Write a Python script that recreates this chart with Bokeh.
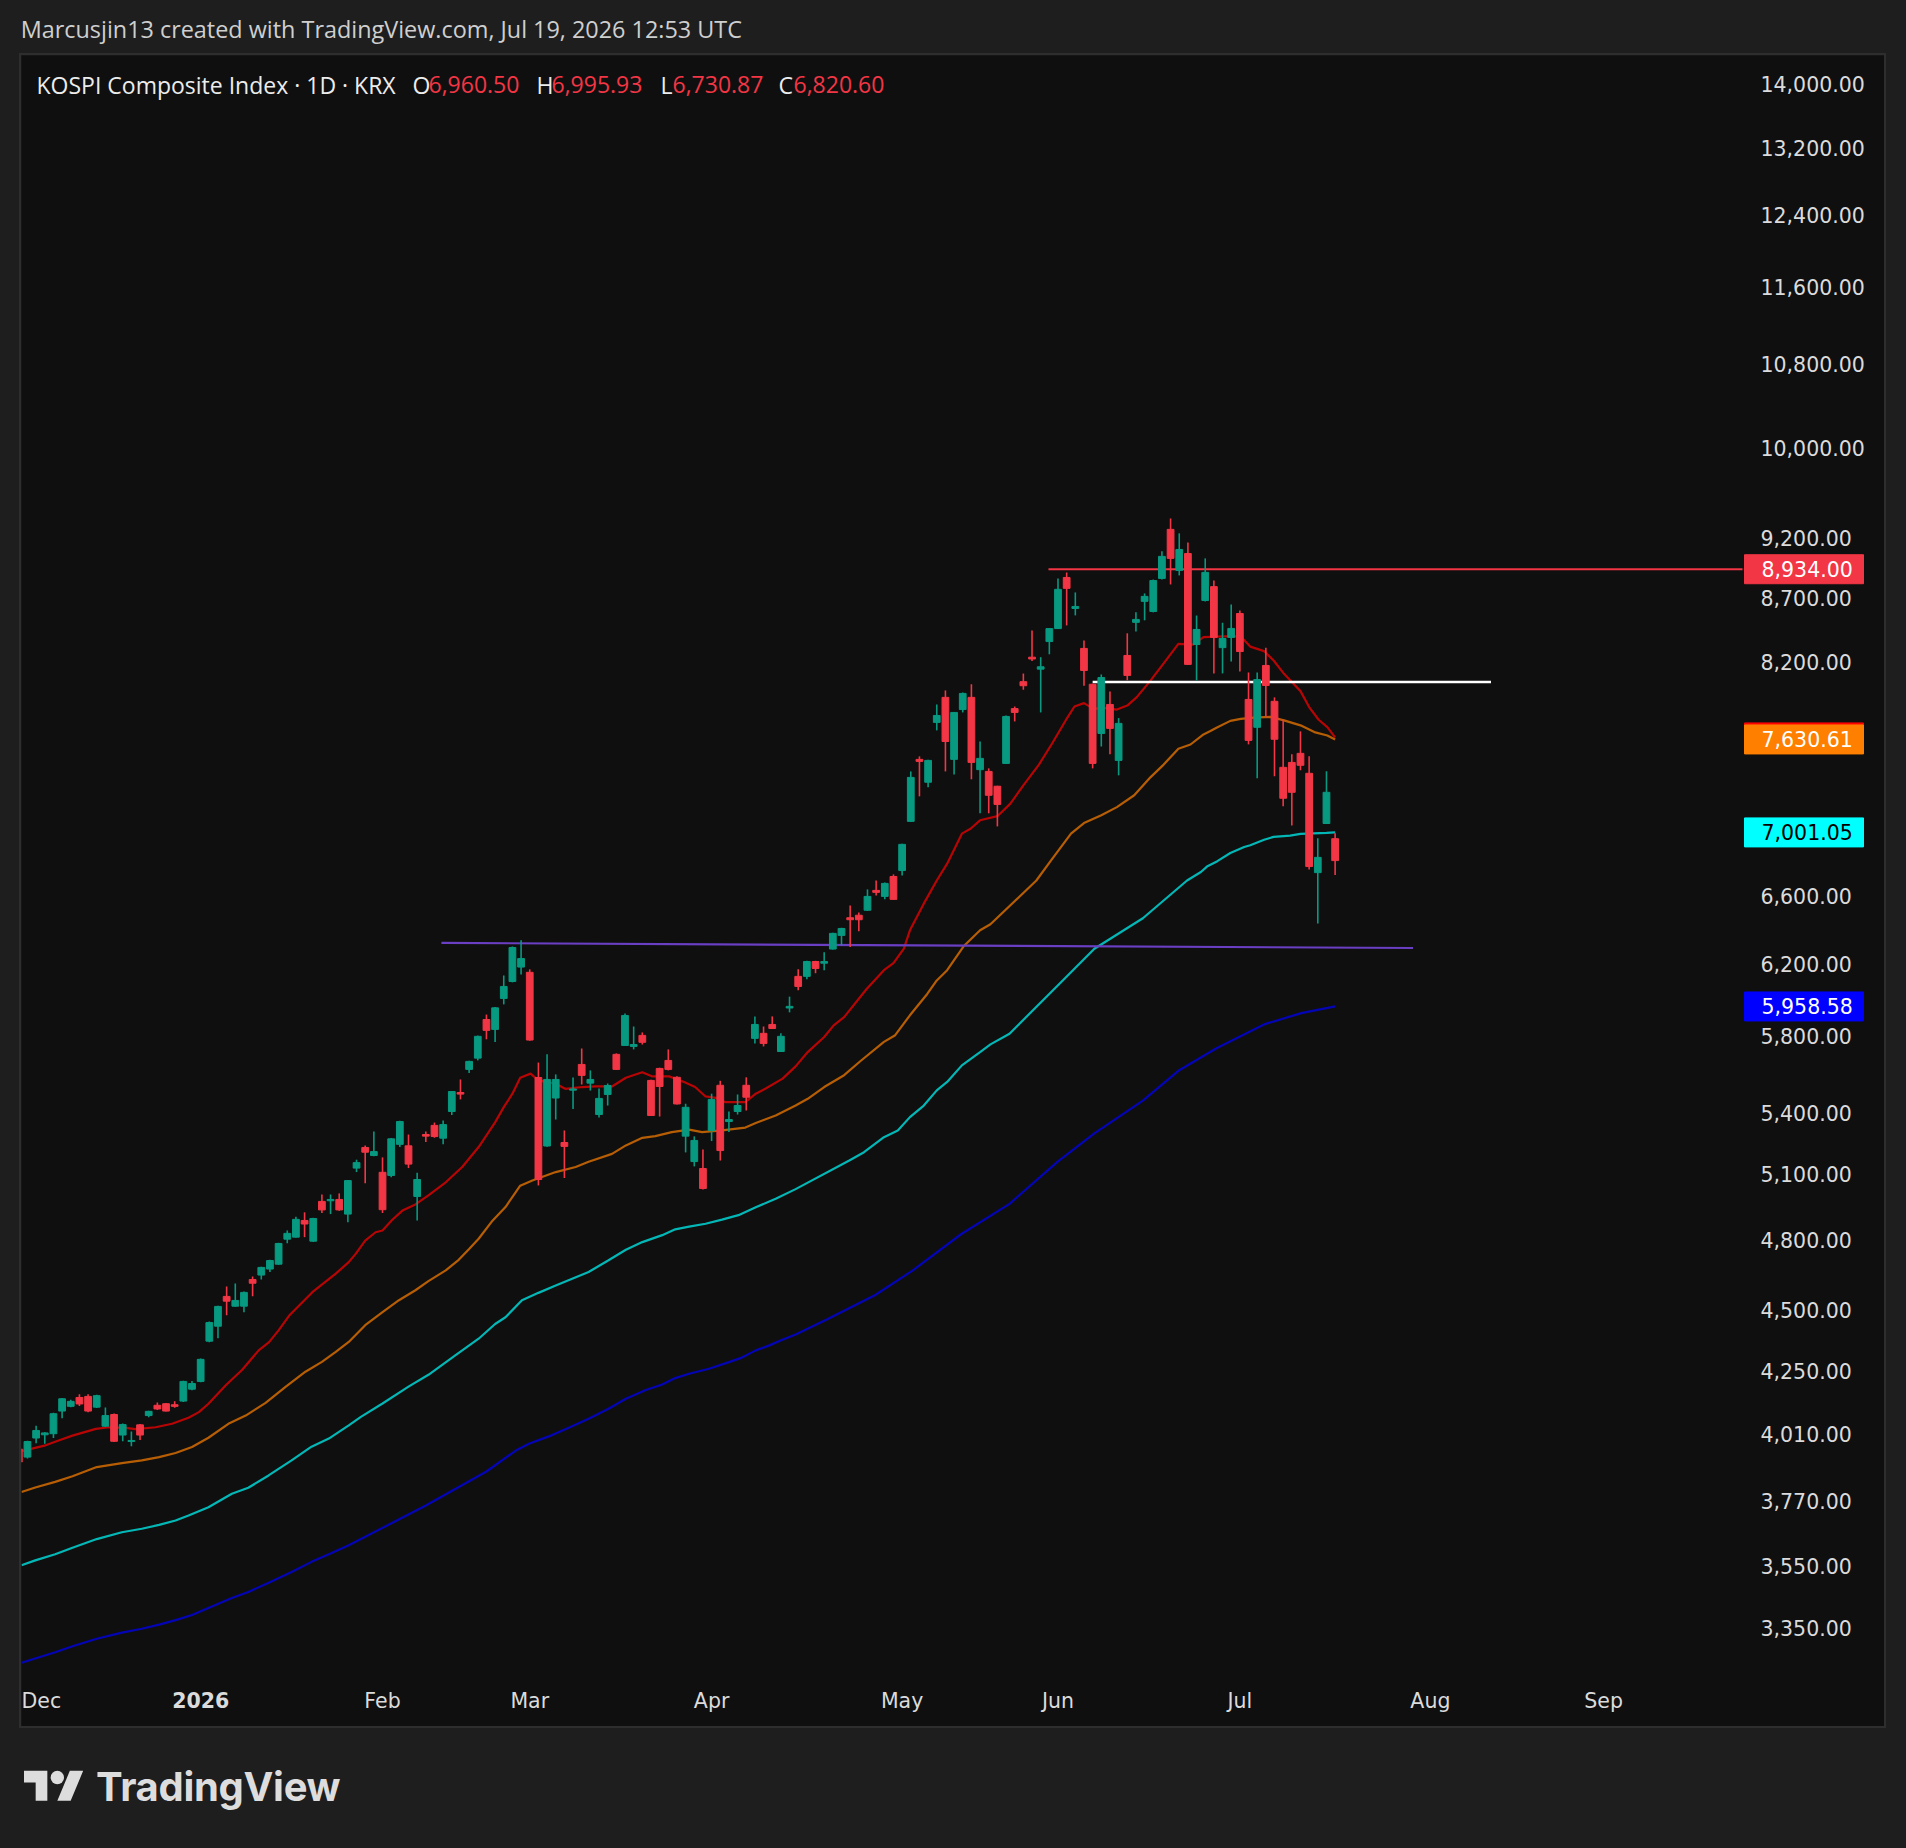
import math
from bokeh.plotting import figure
from bokeh.models import Range1d, FixedTicker, NumeralTickFormatter, Label, Div, ColumnDataSource
from bokeh.layouts import column
from bokeh.embed import file_html
from bokeh.resources import INLINE
from bokeh.core.properties import value

# ---------------- data ----------------
opens = [3955, 3925, 3995, 4007, 4011, 4096, 4114, 4148, 4152, 4111,
         4039, 4083, 4006, 3982, 4044, 4079, 4118, 4124, 4120, 4134,
         4180, 4210, 4370, 4431, 4555, 4514, 4514, 4627, 4646, 4672,
         4693, 4803, 4812, 4887, 4794, 4974, 4977, 4983, 4916, 5130,
         5229, 5190, 5110, 5095, 5244, 5237, 4997, 5292, 5337, 5274,
         5406, 5502, 5621, 5680, 5887, 5833, 6003, 6098, 6180, 6150,
         5579, 5236, 5474, 5253, 5514, 5647, 5550, 5391, 5492, 5700,
         5747, 5742, 5801, 5564, 5626, 5668, 5580, 5284, 5161, 5128,
         5312, 5539, 5356, 5406, 5539, 5785, 5812, 5860, 5715, 5950,
         6127, 6127, 6212, 6202, 6284, 6364, 6469, 6484, 6514, 6635,
         6598, 6721, 6758, 7073, 7491, 7334, 7752, 7934, 7491, 7845,
         7934, 7420, 7408, 7307, 7463, 7852, 8050, 8235, 8144, 8355,
         8456, 8866, 8615, 8302, 8031, 7673, 7882, 7484, 8248, 8505,
         8672, 8591, 8858, 9270, 8924, 9065, 8332, 8679, 8791, 8308,
         8387, 8575, 7919, 7717, 8172, 7905, 7436, 7470, 7533, 7395,
         6745, 7059, 6960.50]
highs = [3962, 3985, 4041, 4016, 4090, 4146, 4139, 4160, 4160, 4158,
         4110, 4087, 4049, 4019, 4047, 4097, 4129, 4127, 4133, 4213,
         4212, 4300, 4450, 4516, 4597, 4610, 4576, 4640, 4682, 4712,
         4787, 4842, 4904, 4924, 4899, 5006, 5006, 5011, 5074, 5170,
         5239, 5307, 5181, 5275, 5360, 5292, 5108, 5307, 5351, 5361,
         5510, 5569, 5666, 5800, 5914, 5955, 6132, 6299, 6335, 6167,
         5657, 5700, 5595, 5312, 5579, 5731, 5616, 5522, 5548, 5705,
         5920, 5849, 5817, 5568, 5630, 5726, 5585, 5445, 5283, 5219,
         5496, 5562, 5406, 5492, 5580, 5904, 5849, 5904, 5812, 6013,
         6168, 6216, 6216, 6265, 6380, 6409, 6543, 6501, 6641, 6696,
         6684, 6734, 6928, 7408, 7512, 7488, 7882, 7985, 7828, 7970,
         8031, 7616, 7429, 7310, 7802, 7867, 8111, 8441, 8235, 8460,
         8858, 8907, 8744, 8363, 8035, 8104, 7977, 7783, 8419, 8584,
         8736, 8849, 9083, 9364, 9236, 9158, 8559, 9024, 8841, 8502,
         8647, 8599, 8119, 8119, 8308, 7934, 7773, 7526, 7688, 7512,
         6963, 7409, 6995.93]
lows = [3902, 3920, 3976, 3974, 3995, 4069, 4111, 4115, 4092, 4108,
        4036, 3980, 3983, 3965, 3988, 4073, 4100, 4094, 4109, 4131,
        4176, 4207, 4366, 4382, 4476, 4512, 4489, 4556, 4627, 4659,
        4690, 4785, 4810, 4812, 4791, 4921, 4916, 4931, 4879, 5111,
        5059, 5187, 4921, 5087, 5231, 5130, 4887, 5255, 5276, 5245,
        5388, 5467, 5602, 5668, 5780, 5765, 5970, 6093, 6138, 5772,
        5048, 5232, 5366, 5083, 5418, 5543, 5512, 5376, 5436, 5618,
        5744, 5726, 5752, 5383, 5381, 5616, 5441, 5205, 5138, 5029,
        5260, 5166, 5304, 5391, 5411, 5758, 5742, 5836, 5713, 5926,
        6048, 6110, 6145, 6162, 6282, 6306, 6296, 6388, 6510, 6604,
        6580, 6578, 6727, 7070, 7239, 7300, 7695, 7408, 7387, 7824,
        7354, 7126, 7126, 7040, 7460, 7759, 7990, 8206, 7824, 8257,
        8452, 8481, 8560, 8020, 7429, 7581, 7526, 7381, 8060, 8434,
        8521, 8584, 8849, 8809, 8883, 8177, 8059, 8671, 8112, 8112,
        8202, 8127, 7596, 7361, 7790, 7375, 7172, 7046, 7416, 6765,
        6435, 7057, 6730.87]
closes = [3907, 3982, 4023, 4014, 4086, 4143, 4133, 4123, 4096, 4155,
          4079, 3983, 4045, 3986, 4006, 4095, 4104, 4096, 4114, 4210,
          4202, 4297, 4446, 4513, 4535, 4538, 4572, 4611, 4679, 4709,
          4784, 4829, 4892, 4871, 4896, 4935, 4983, 4935, 5071, 5156,
          5206, 5209, 4936, 5271, 5356, 5149, 5076, 5284, 5282, 5341,
          5507, 5494, 5663, 5796, 5828, 5951, 6070, 6293, 6229, 5776,
          5076, 5569, 5569, 5234, 5520, 5590, 5569, 5472, 5538, 5621,
          5909, 5752, 5764, 5386, 5533, 5621, 5444, 5427, 5263, 5034,
          5467, 5214, 5366, 5436, 5478, 5860, 5758, 5838, 5796, 5959,
          6070, 6212, 6172, 6212, 6376, 6405, 6457, 6457, 6598, 6623,
          6678, 6580, 6924, 7367, 7477, 7484, 7802, 7616, 7824, 7963,
          7470, 7498, 7246, 7185, 7795, 7824, 8020, 8221, 8162, 8456,
          8769, 8777, 8631, 8134, 7463, 8081, 7709, 7745, 8097, 8528,
          8712, 8841, 9041, 9024, 9099, 8180, 8449, 8908, 8387, 8379,
          8457, 8278, 7624, 8066, 8022, 7632, 7226, 7266, 7450, 6783,
          6841, 7266, 6820.60]

# month labels (bar index of first session of each month)
month_tick_idx = [0, 21, 42, 59, 80, 102, 120, 141, 163, 183]
month_tick_labels = ["Dec", "2026", "Feb", "Mar", "Apr", "May", "Jun", "Jul", "Aug", "Sep"]

price_ticks = [3350, 3550, 3770, 4010, 4250, 4500, 4800, 5100, 5400, 5800, 6200, 6600,
               8200, 8700, 9200, 10000, 10800, 11600, 12400, 13200, 14000]

# moving averages (bar index, value)
ma_red_x = [0.31, 3.1, 4.6, 6.2, 8.9, 10.4, 12.3, 13.5, 15.8, 17.7, 19.6, 20.8, 21.9, 23.9, 25.8,
            27.7, 28.9, 30.0, 31.2, 33.9, 36.6, 38.1, 38.9, 40.0, 41.2, 42.0, 43.1, 44.3, 45.8,
            47.3, 49.3, 51.2, 53.1, 55.0, 56.0, 57.0, 57.9, 59.1, 60.0, 62.0, 63.1, 65.1, 66.6,
            68.5, 70.1, 72.0, 73.1, 75.1, 76.9, 78.1, 79.3, 80.5, 81.6, 83.9, 85.1, 86.2, 88.2,
            89.7, 91.1, 93.0, 94.1, 95.3, 97.9, 99.9, 101.0, 102.2, 102.9, 104.5, 106.0, 107.2,
            108.9, 109.9, 111.0, 113.0, 114.5, 116.0, 117.8, 119.3, 120.9, 121.9, 123.0, 124.1,
            125.3, 126.8, 128.0, 129.1, 130.7, 132.2, 133.9, 135.6, 136.8, 139.2, 141.1, 142.2,
            143.8, 144.9, 146.1, 148.0, 149.0, 150.1, 151.1, 152.0]
ma_red_y = [3947, 3968, 3986, 4004, 4029, 4035, 4033, 4028, 4035, 4048, 4071, 4092, 4124, 4195, 4256,
            4333, 4366, 4414, 4474, 4573, 4652, 4702, 4738, 4797, 4834, 4842, 4889, 4932, 4960,
            5002, 5063, 5135, 5231, 5352, 5428, 5496, 5578, 5599, 5564, 5547, 5521, 5530, 5533,
            5533, 5578, 5606, 5585, 5585, 5555, 5530, 5482, 5475, 5453, 5453, 5496, 5521, 5573,
            5637, 5712, 5792, 5855, 5900, 6056, 6162, 6202, 6286, 6394, 6554, 6696, 6801,
            6993, 7025, 7080, 7107, 7190, 7313, 7455, 7600, 7768, 7867, 7892, 7850,
            7857, 7845, 7874, 7936, 8060, 8188, 8337, 8332, 8389, 8395, 8395, 8316,
            8281, 8210, 8109, 7980, 7863, 7771, 7718, 7645]
ma_orange_x = [0.31, 1.9, 4.2, 6.2, 9.0, 11.9, 14.2, 16.2, 18.1, 20.0, 21.9, 24.2, 26.2, 28.5, 30.8,
               33.1, 35.0, 36.6, 38.1, 40.0, 42.0, 43.9, 45.8, 47.3, 49.3, 50.8, 52.0, 53.1, 54.7,
               56.2, 57.9, 59.3, 62.0, 64.3, 65.8, 68.5, 70.1, 72.0, 73.5, 75.4, 77.4, 78.9, 81.2,
               83.9, 85.1, 87.4, 89.7, 91.1, 93.0, 95.3, 97.2, 99.9, 101.2, 102.9, 104.9, 106.0,
               107.2, 109.1, 111.0, 112.2, 117.5, 119.2, 121.5, 123.0, 125.0, 126.8, 128.8, 130.7,
               132.2, 133.9, 135.3, 136.8, 137.6, 138.3, 139.9, 141.1, 142.6, 144.5, 146.1, 148.0,
               149.6, 151.1, 152.0]
ma_orange_y = [3800, 3816, 3836, 3856, 3889, 3903, 3913, 3925, 3940, 3962, 3996, 4048, 4079, 4127, 4189,
               4248, 4287, 4327, 4367, 4435, 4489, 4539, 4581, 4620, 4666, 4712, 4760, 4805, 4886,
               4948, 5047, 5071, 5111, 5135, 5160, 5198, 5239, 5276, 5284, 5304, 5316, 5304, 5312,
               5326, 5349, 5386, 5436, 5470, 5530, 5591, 5665, 5766, 5802, 5910, 6028, 6104,
               6162, 6300, 6394, 6430, 6696, 6822, 6993, 7062, 7113, 7167, 7246, 7369,
               7455, 7565, 7595, 7666, 7690, 7714, 7763, 7777, 7787, 7792, 7767, 7731,
               7683, 7659, 7630.61]
ma_cyan_x = [0.31, 1.9, 4.2, 6.2, 9.0, 11.9, 14.2, 16.2, 18.1, 19.6, 21.9, 24.6, 26.5, 28.8, 31.5,
             33.8, 35.8, 38.1, 39.5, 42.0, 45.0, 47.3, 50.4, 53.1, 55.0, 56.2, 58.1, 60.0, 62.0,
             63.9, 65.8, 68.1, 70.1, 72.0, 74.3, 75.8, 77.4, 79.3, 81.2, 83.1, 85.1, 87.4, 89.7,
             95.9, 97.6, 99.9, 101.5, 102.9, 104.5, 106.0, 107.2, 108.9, 111.0, 112.2, 114.4,
             120.0, 124.2, 129.8, 134.9, 136.5, 137.2, 138.4, 139.9, 141.5, 142.2, 143.8, 144.9,
             146.8, 148.0, 149.5, 151.0, 152.0]
ma_cyan_y = [3551, 3567, 3587, 3609, 3638, 3661, 3673, 3686, 3701, 3718, 3747, 3794, 3815, 3858, 3913,
             3963, 3993, 4042, 4074, 4125, 4190, 4236, 4313, 4380, 4440, 4468, 4539, 4570, 4601,
             4630, 4659, 4710, 4756, 4790, 4821, 4847, 4859, 4872, 4891, 4911, 4947, 4986, 5031,
             5166, 5206, 5279, 5312, 5378, 5436, 5513, 5556, 5642, 5712, 5753, 5810,
             6077, 6286, 6466, 6696, 6749, 6783, 6817, 6869, 6907, 6918, 6954, 6972,
             6980, 6991, 6995, 6998, 7001.05]
ma_blue_x = [0.31, 4.2, 6.2, 9.0, 11.9, 14.2, 16.2, 18.1, 20.0, 22.3, 24.6, 26.5, 28.8, 31.5, 33.8,
             35.8, 38.1, 39.5, 47.0, 54.0, 57.4, 58.9, 61.2, 63.5, 65.8, 68.1, 70.1, 72.4, 74.3,
             75.8, 77.4, 79.7, 82.0, 83.5, 85.1, 86.6, 88.1, 89.7, 93.3, 98.9, 103.2, 108.8,
             114.4, 120.0, 124.2, 129.8, 134.0, 138.3, 143.9, 148.1, 152.0]
ma_blue_y = [3244, 3276, 3294, 3317, 3336, 3348, 3361, 3375, 3391, 3418, 3445, 3464, 3493, 3529, 3562,
             3587, 3617, 3638, 3753, 3873, 3949, 3974, 4001, 4033, 4067, 4105, 4143, 4177, 4198,
             4223, 4240, 4260, 4286, 4304, 4333, 4352, 4375, 4397, 4459, 4561, 4665, 4825,
             4963, 5162, 5298, 5461, 5617, 5732, 5862, 5922, 5958.58]

# drawn annotations
resistance_level = 8934.0
resistance_from_idx = 118.9
white_level = 8048.0
white_from_idx = 124.0
white_to_idx = 170.0
trend_idx = [48.8, 161.0]
trend_val = [6320.0, 6290.0]

ticker_name = "KOSPI Composite Index \u00b7 1D \u00b7 KRX"
header_text = "Marcusjin13 created with TradingView.com, Jul 19, 2026 12:53 UTC"

# ---------------- styling / geometry ----------------
GREEN = "#089981"
RED = "#f23645"
BG = "#0f0f0f"
OUTER = "#1e1e1e"
AX_TXT = "#dbdbdb"

X0_PX, BAR_PX = 18.3, 8.66        # page x of bar 0, pixels per bar
LOG_A, LOG_B = 10389.6, 1079.5     # page y = LOG_A - LOG_B*ln(price)


def ix(px):
    return (px - X0_PX) / BAR_PX


def pr(py):
    return math.exp((LOG_A - py) / LOG_B)


FIG_L, FIG_T, FIG_R, FIG_B = 21, 55, 1884, 1726   # panel (page px)
PANE_R, PANE_B = 1742, 1672                        # price scale / time scale borders

n = min(len(opens), len(highs), len(lows), len(closes))
idx = list(range(n))
o, h, l, c = opens[:n], highs[:n], lows[:n], closes[:n]
src = ColumnDataSource(dict(
    x=idx,
    top=[max(a, b) for a, b in zip(o, c)],
    bottom=[min(a, b) for a, b in zip(o, c)],
    hi=[max(a, b, d) for a, b, d in zip(h, o, c)],
    lo=[min(a, b, d) for a, b, d in zip(l, o, c)],
    color=[GREEN if b >= a else RED for a, b in zip(o, c)],
))

x_start, x_end = ix(FIG_L), ix(FIG_R)
pane_right = ix(PANE_R)
p = figure(width=FIG_R - FIG_L, height=FIG_B - FIG_T,
           x_range=Range1d(x_start, x_end), y_range=Range1d(pr(FIG_B), pr(FIG_T)),
           y_axis_type="log", y_axis_location="right",
           output_backend="svg", toolbar_location=None, title=None,
           min_border_left=0, min_border_top=0, min_border_right=0, min_border_bottom=0,
           background_fill_color=BG, border_fill_color=BG, outline_line_color=None,
           margin=(0, 0, 0, FIG_L - 8),
           styles={"outline": "2px solid #2e2e2e"})
p.grid.visible = False

# price scale (drawn at the pane border, inside the panel)
ya = p.yaxis[0]
ya.fixed_location = pane_right
ya.ticker = FixedTicker(ticks=price_ticks)
ya.formatter = NumeralTickFormatter(format="0,0.00")
ya.axis_line_color = None
ya.major_tick_line_color = None
ya.minor_tick_line_color = None
ya.major_tick_out = 0
ya.minor_tick_out = 0
ya.major_tick_in = 0
ya.minor_tick_in = 0
ya.major_label_standoff = 18
ya.major_label_text_font = "DejaVu Sans"
ya.major_label_text_font_size = "20.5px"
ya.major_label_text_color = AX_TXT

# time scale
xa = p.xaxis[0]
xa.fixed_location = pr(PANE_B)
tick_pos = [max(t, x_start + 0.01) for t in month_tick_idx]
xa.ticker = FixedTicker(ticks=tick_pos)
overrides = {}
for t, lab in zip(tick_pos, month_tick_labels):
    overrides[t] = "" if lab.isdigit() else lab
xa.major_label_overrides = overrides
xa.axis_line_color = None
xa.major_tick_line_color = None
xa.minor_tick_line_color = None
xa.major_tick_out = 0
xa.minor_tick_out = 0
xa.major_tick_in = 0
xa.minor_tick_in = 0
xa.major_label_standoff = 16
xa.major_label_text_font = "DejaVu Sans"
xa.major_label_text_font_size = "20.5px"
xa.major_label_text_color = AX_TXT

# bold year label on the time scale
year_src = ColumnDataSource(dict(
    x=[t for t, lab in zip(tick_pos, month_tick_labels) if lab.isdigit()],
    y=[pr(1699.4)] * sum(1 for lab in month_tick_labels if lab.isdigit()),
    text=[lab for lab in month_tick_labels if lab.isdigit()]))
p.text(x="x", y="y", text="text", source=year_src, text_font=value("DejaVu Sans"),
       text_font_size={"value": "20.5px"}, text_font_style="bold", text_color=AX_TXT,
       text_baseline="middle", text_align="center")

# moving averages
for xs, ys, col in [(ma_blue_x, ma_blue_y, "#0000ff"), (ma_cyan_x, ma_cyan_y, "#00ffff"),
                    (ma_orange_x, ma_orange_y, "#ff8000"), (ma_red_x, ma_red_y, "#ff0000")]:
    m = min(len(xs), len(ys))
    p.line(xs[:m], ys[:m], line_color=col, line_alpha=0.7, line_width=2.2)

# drawn lines
p.line(trend_idx, trend_val, line_color="#6a3fc4", line_width=2.2)
p.line([resistance_from_idx, pane_right], [resistance_level, resistance_level], line_color=RED, line_width=2)
p.line([white_from_idx, white_to_idx], [white_level, white_level], line_color="#ffffff", line_width=2.6)

# candles
p.segment(x0="x", y0="lo", x1="x", y1="hi", line_color="color", line_width=1.6, source=src)
p.vbar(x="x", width=0.78, top="top", bottom="bottom", fill_color="color",
       line_color="color", line_width=1, source=src)

# price-scale value boxes
box_center, text_left = ix(1803.5), ix(1761)
p.rect(x=[box_center], y=[ma_red_y[-1]], width=119, height=29, width_units="screen",
       height_units="screen", fill_color="#ff0000", line_color="#ff0000")
box_vals = [resistance_level, ma_orange_y[-1], ma_cyan_y[-1], ma_blue_y[-1]]
box_src = ColumnDataSource(dict(
    x=[box_center] * 4, tx=[text_left] * 4, y=box_vals,
    fill=[RED, "#ff7f00", "#00ffff", "#0000ff"],
    tc=["#ffffff", "#ffffff", "#000000", "#ffffff"],
    txt=[f"{v:,.2f}" for v in box_vals]))
p.rect(x="x", y="y", width=119, height=29, width_units="screen", height_units="screen",
       fill_color="fill", line_color="fill", source=box_src)
p.text(x="tx", y="y", text="txt", text_color="tc", source=box_src, text_font=value("DejaVu Sans"),
       text_font_size={"value": "20.5px"}, text_baseline="middle", text_align="left")

# legend line (OHLC of last bar)
LEG_Y = pr(84.0)
leg_font = dict(text_font="Open Sans", text_font_size="23px", text_baseline="alphabetic", text_align="left")
p.add_layout(Label(x=ix(36.0), y=LEG_Y, text=ticker_name, text_color="#ececec", **leg_font))
for letter, val, px_l, px_v in [("O", o[-1], 412, 428), ("H", h[-1], 536, 551),
                                ("L", l[-1], 660, 672), ("C", c[-1], 778, 793)]:
    p.add_layout(Label(x=ix(px_l), y=LEG_Y, text=letter, text_color="#ececec", **leg_font))
    p.add_layout(Label(x=ix(px_v), y=LEG_Y, text=f"{val:,.2f}", text_color=RED, **leg_font))

top_div = Div(text=('<div style="padding:10px 0 0 12.7px;font-family:\'Open Sans\';font-size:23.4px;'
                    'line-height:23px;color:#cfcfcf;white-space:nowrap">' + header_text + '</div>'),
              width=1890, height=FIG_T - 8, margin=(0, 0, 0, 0))

logo_svg = ('<svg width="60" height="47" viewBox="0 0 36 28" style="display:block">'
            '<path d="M14 22H7V11H0V4h14v18zM28 22h-8l7.5-18h8L28 22z" fill="#dddddd"/>'
            '<circle cx="20" cy="8" r="4" fill="#dddddd"/></svg>')
bottom_div = Div(text=('<div style="display:flex;align-items:center;height:112px;padding:10px 0 0 16px;'
                       'box-sizing:border-box">'
                       + logo_svg +
                       '<span style="font-family:Inter;font-weight:700;font-size:40px;color:#dddddd;'
                       'margin-left:12px;letter-spacing:-0.3px">TradingView</span></div>'),
                 width=1890, height=112, margin=(0, 0, 0, 0))

sheets = []
try:
    from bokeh.models import GlobalInlineStyleSheet
    sheets = [GlobalInlineStyleSheet(css="html, body { background-color: #1e1e1e; }")]
except Exception:
    sheets = []

layout = column(top_div, p, bottom_div, spacing=0, stylesheets=sheets,
                margin=(8, 8, 8, 8), styles={"background-color": OUTER})

open("out.html", "w").write(file_html(layout, INLINE))
